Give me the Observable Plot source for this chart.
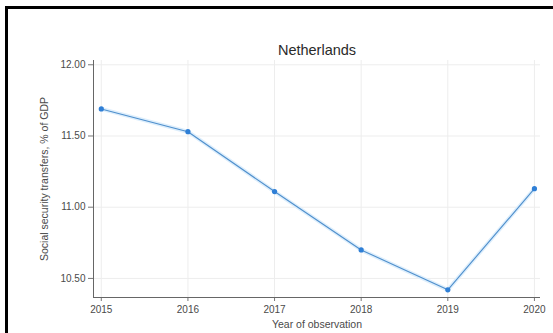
<!DOCTYPE html>
<html>
<head>
<meta charset="utf-8">
<script src="https://cdn.jsdelivr.net/npm/d3@7"></script>
<script src="https://cdn.jsdelivr.net/npm/@observablehq/plot@0.6"></script>
<style>
  html, body { margin: 0; padding: 0; background: #fff; }
  #wrap { position: relative; width: 553px; height: 333px; overflow: hidden; }
  #frame { position: absolute; left: 5px; top: 6px; width: 600px; height: 400px; border: 3px solid #000; box-sizing: border-box; pointer-events: none; }
  #chart { position: absolute; left: 0; top: 0; }
</style>
</head>
<body>
<div id="wrap"><div id="chart"></div><div id="frame"></div></div>
<script>
// Social security transfers in the Netherlands, % of GDP
const years = [2015, 2016, 2017, 2018, 2019, 2020];
const values = [11.69, 11.53, 11.11, 10.70, 10.42, 11.13];
const yTicks = [10.5, 11.0, 11.5, 12.0];
const xTicks = [2015, 2016, 2017, 2018, 2019, 2020];
const title = "Netherlands";

const data = years.map((year, i) => ({year, value: values[i]}));
const fmt = d3.format(".2f");

const chart = Plot.plot({
  width: 553,
  height: 333,
  marginLeft: 93,
  marginTop: 60,
  marginRight: 13,
  marginBottom: 36,
  style: {fontFamily: "Liberation Sans, Arial, sans-serif", fontSize: "10px", color: "#4a4a4a", background: "transparent"},
  x: {domain: [2014.91, 2020.07]},
  y: {domain: [10.366, 12.03]},
  marks: [
    Plot.ruleY(yTicks, {stroke: "#ededed", strokeWidth: 1}),
    Plot.ruleX(xTicks, {stroke: "#ededed", strokeWidth: 1}),
    Plot.axisY(yTicks, {
      tickFormat: fmt, tickSize: 5, tickPadding: 3, stroke: "#777", fill: "#4a4a4a", label: null
    }),
    Plot.axisY({
      ticks: [], label: "Social security transfers, % of GDP", labelAnchor: "center",
      labelArrow: "none", labelOffset: 53, fontSize: 10.5, fill: "#4a4a4a"
    }),
    Plot.axisX(xTicks, {
      tickFormat: d => String(d), tickSize: 4, tickPadding: 4, stroke: "#777", fill: "#4a4a4a", label: null
    }),
    Plot.axisX({
      ticks: [], label: "Year of observation", labelAnchor: "center",
      labelArrow: "none", labelOffset: 30, fontSize: 10.5, fill: "#4a4a4a"
    }),
    Plot.ruleX([2014.91], {stroke: "#666"}),
    Plot.ruleY([10.366], {stroke: "#666"}),
    Plot.line(data, {x: "year", y: "value", stroke: "#ddeefc", strokeWidth: 4}),
    Plot.line(data, {x: "year", y: "value", stroke: "#4f8fcc", strokeWidth: 1.1}),
    Plot.dot(data, {x: "year", y: "value", r: 2.6, fill: "#2f7fd6", stroke: "none"}),
    Plot.text([title], {frameAnchor: "top", lineAnchor: "bottom", dy: -6, fontSize: 14.5, fill: "#2a2a2a"})
  ]
});
document.getElementById("chart").appendChild(chart);
</script>
</body>
</html>
